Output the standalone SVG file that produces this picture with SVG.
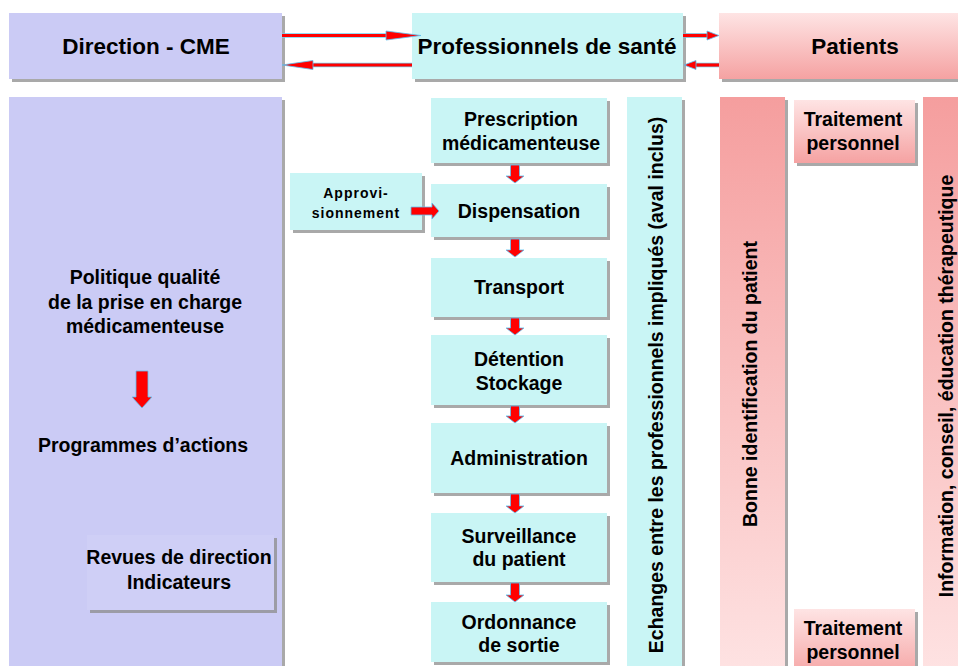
<svg xmlns="http://www.w3.org/2000/svg" width="958" height="666" viewBox="0 0 958 666">
  <style>
    text { font-family: "Liberation Sans", Arial, sans-serif; font-weight: bold; fill: #000; text-anchor: middle; }
    .h { font-size: 22.5px; }
    .t { font-size: 19.5px; }
    .s { font-size: 14px; letter-spacing: 1px; }
    .lav { fill: #cbcbf5; }
    .cy { fill: #c9f5f5; }
    .sh { filter: url(#ds); }
    .red { fill: #ff0000; stroke: #5cc2f2; stroke-width: 0.8; }
    .ln { stroke: #ff0000; stroke-width: 3.2; fill: none; }
    .lnb { stroke: #6fd0f0; stroke-width: 4.6; fill: none; }
  </style>
  <defs>
    <filter id="ds" x="-5%" y="-5%" width="115%" height="115%">
      <feDropShadow dx="3" dy="3" stdDeviation="0.7" flood-color="#8c8c8c" flood-opacity="0.75"/>
    </filter>
    <linearGradient id="pinkDown" x1="0" y1="0" x2="0" y2="1">
      <stop offset="0" stop-color="#fee4e4"/>
      <stop offset="1" stop-color="#f5a2a2"/>
    </linearGradient>
    <linearGradient id="pinkUp" x1="0" y1="0" x2="0" y2="1">
      <stop offset="0" stop-color="#f59e9e"/>
      <stop offset="1" stop-color="#fee3e3"/>
    </linearGradient>
  </defs>

  <rect width="958" height="666" fill="#ffffff"/>

  <!-- Header nodes -->
  <g id="direction-cme">
    <rect class="lav sh" x="9" y="13" width="273" height="66"/>
    <text class="h" x="146" y="54">Direction - CME</text>
  </g>
  <g id="professionnels">
    <rect class="cy sh" x="412" y="13" width="271" height="66"/>
    <text class="h" x="547" y="54">Professionnels de santé</text>
  </g>
  <g id="patients">
    <rect class="sh" x="719" y="13" width="250" height="66" fill="url(#pinkDown)"/>
    <text class="h" x="855" y="54">Patients</text>
  </g>

  <!-- Left panel -->
  <g id="politique-panel">
    <rect class="lav sh" x="9" y="97" width="273" height="580"/>
    <text class="t" x="145" y="284">Politique qualité</text>
    <text class="t" x="145" y="309">de la prise en charge</text>
    <text class="t" x="145" y="333">médicamenteuse</text>
    <text class="t" x="143" y="452">Programmes d’actions</text>
  </g>
  <g id="revues">
    <rect class="sh" x="87" y="535" width="187" height="75" fill="#cfcff6"/>
    <text class="t" x="179" y="564">Revues de direction</text>
    <text class="t" x="179" y="589">Indicateurs</text>
  </g>

  <!-- Middle chain -->
  <g id="approvisionnement">
    <rect class="cy sh" x="290" y="173" width="132" height="57"/>
    <text class="s" x="356" y="198">Approvi-</text>
    <text class="s" x="356" y="218">sionnement</text>
  </g>
  <g id="prescription">
    <rect class="cy sh" x="431" y="98" width="176" height="65"/>
    <text class="t" x="521" y="126">Prescription</text>
    <text class="t" x="521" y="150">médicamenteuse</text>
  </g>
  <g id="dispensation">
    <rect class="cy sh" x="431" y="184" width="176" height="53"/>
    <text class="t" x="519" y="218">Dispensation</text>
  </g>
  <g id="transport">
    <rect class="cy sh" x="431" y="258" width="176" height="59"/>
    <text class="t" x="519" y="294">Transport</text>
  </g>
  <g id="detention">
    <rect class="cy sh" x="431" y="335" width="176" height="70"/>
    <text class="t" x="519" y="366">Détention</text>
    <text class="t" x="519" y="390">Stockage</text>
  </g>
  <g id="administration">
    <rect class="cy sh" x="431" y="423" width="176" height="70"/>
    <text class="t" x="519" y="465">Administration</text>
  </g>
  <g id="surveillance">
    <rect class="cy sh" x="431" y="513" width="176" height="69"/>
    <text class="t" x="519" y="543">Surveillance</text>
    <text class="t" x="519" y="566">du patient</text>
  </g>
  <g id="ordonnance">
    <rect class="cy sh" x="431" y="602" width="176" height="60"/>
    <text class="t" x="519" y="629">Ordonnance</text>
    <text class="t" x="519" y="652">de sortie</text>
  </g>

  <!-- Vertical columns -->
  <g id="echanges">
    <rect class="cy sh" x="627" y="97" width="55" height="580"/>
    <text class="t" transform="translate(663,385) rotate(-90)">Echanges entre les professionnels impliqués (aval inclus)</text>
  </g>
  <g id="identification">
    <rect class="sh" x="720" y="97" width="65" height="580" fill="url(#pinkUp)"/>
    <text class="t" transform="translate(757,384) rotate(-90)">Bonne identification du patient</text>
  </g>
  <g id="traitement-haut">
    <rect class="sh" x="794" y="100" width="121" height="63" fill="url(#pinkDown)"/>
    <text class="t" x="853" y="126">Traitement</text>
    <text class="t" x="853" y="150">personnel</text>
  </g>
  <g id="traitement-bas">
    <rect class="sh" x="794" y="609" width="121" height="70" fill="url(#pinkDown)"/>
    <text class="t" x="853" y="635">Traitement</text>
    <text class="t" x="853" y="659">personnel</text>
  </g>
  <g id="information">
    <rect x="923" y="97" width="60" height="580" fill="url(#pinkUp)"/>
    <text class="t" transform="translate(953,386) rotate(-90)">Information, conseil, éducation thérapeutique</text>
  </g>

  <!-- Connectors -->
  <g id="connectors">
    <!-- header arrows -->
    <line class="lnb" x1="282" y1="35.5" x2="392" y2="35.5"/>
    <line class="ln" x1="282" y1="35.5" x2="392" y2="35.5"/>
    <polygon class="red" points="386,31 421,35.5 386,40"/>
    <line class="lnb" x1="412" y1="65" x2="305" y2="65"/>
    <line class="ln" x1="412" y1="65" x2="305" y2="65"/>
    <polygon class="red" points="282,65 313,60.5 313,69.5"/>
    <line class="lnb" x1="683" y1="35.5" x2="709" y2="35.5"/>
    <line class="ln" x1="683" y1="35.5" x2="709" y2="35.5"/>
    <polygon class="red" points="707,31 719,35.5 707,40"/>
    <line class="lnb" x1="719" y1="65" x2="693" y2="65"/>
    <line class="ln" x1="719" y1="65" x2="693" y2="65"/>
    <polygon class="red" points="684,65 696,60.5 696,69.5"/>

    <!-- left panel arrow -->
    <path class="red" d="M136,371 H148 V397 H152 L142,408 L132,397 H136 Z"/>

    <!-- approvisionnement -> dispensation -->
    <path class="red" d="M411,207 H432 V203 L439,211 L432,219 V215 H411 Z"/>

    <!-- chain down arrows -->
    <path class="red" d="M510.5,165 H519.5 V176 H524 L515,183 L506,176 H510.5 Z"/>
    <path class="red" d="M510.5,239 H519.5 V250 H524 L515,257 L506,250 H510.5 Z"/>
    <path class="red" d="M510.5,318 H519.5 V328 H524 L515,335 L506,328 H510.5 Z"/>
    <path class="red" d="M510.5,406 H519.5 V416 H524 L515,423 L506,416 H510.5 Z"/>
    <path class="red" d="M510.5,494 H519.5 V506 H524 L515,513 L506,506 H510.5 Z"/>
    <path class="red" d="M510.5,583 H519.5 V595 H524 L515,602 L506,595 H510.5 Z"/>
  </g>
</svg>
